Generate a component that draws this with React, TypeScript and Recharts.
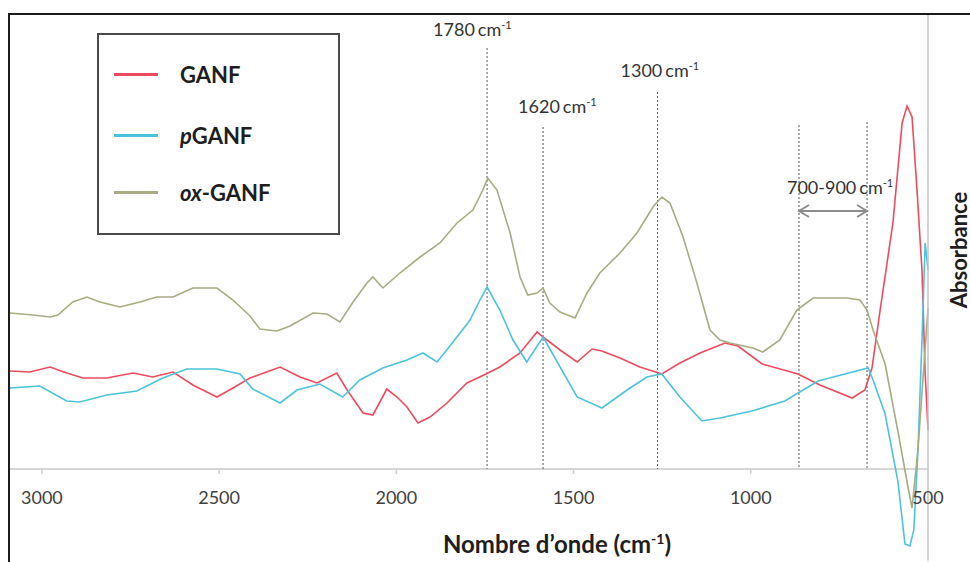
import { LineChart, Line, XAxis, YAxis, ReferenceLine, Legend } from "recharts";

const FONT = "Lato, 'Open Sans', sans-serif";

const CHART_WIDTH = 970;
const CHART_HEIGHT = 562;
const PLOT_TOP = 14;
const PLOT_LEFT = 10;
const X_AXIS_HEIGHT = 1;
const Y_AXIS_WIDTH = 42;
const Y_MIN = -92;
const Y_MAX = 455;
const PLOT_HEIGHT = CHART_HEIGHT - PLOT_TOP - X_AXIS_HEIGHT;
// pixel row of absorbance 0, where the wavenumber axis crosses
const AXIS_ZERO_Y = PLOT_TOP + (PLOT_HEIGHT * Y_MAX) / (Y_MAX - Y_MIN);

const WAVENUMBER_DOMAIN = [500, 3090];
const WAVENUMBER_TICKS = [3000, 2500, 2000, 1500, 1000, 500];

// GANF
const ganfWavenumbers = [
  3090, 3034, 2977, 2930, 2884, 2817, 2743, 2687, 2630, 2574, 2506, 2461, 2413, 2328, 2272,
  2224, 2168, 2139, 2094, 2066, 2027, 1998, 1970, 1939, 1905, 1857, 1801, 1747, 1708, 1651,
  1603, 1586, 1538, 1490, 1448, 1420, 1369, 1313, 1251, 1200, 1143, 1073, 1036, 968, 867,
  805, 714, 678, 658, 635, 599, 573, 559, 545, 531, 517, 508, 500,
];
const ganfAbsorbance = [
  98, 97, 102, 96, 91, 91, 96, 92, 97, 84, 72, 81, 91, 102, 92,
  86, 96, 79, 56, 54, 80, 72, 62, 46, 52, 66, 86, 95, 102, 116,
  137, 132, 119, 107, 120, 118, 111, 102, 95, 106, 116, 126, 123, 105, 95,
  84, 71, 79, 101, 159, 246, 346, 363, 352, 279, 199, 96, 39,
];

// pGANF
const pganfWavenumbers = [
  3090, 3006, 2930, 2893, 2817, 2732, 2659, 2591, 2506, 2441, 2405, 2328, 2280, 2216, 2151,
  2103, 2038, 1970, 1925, 1885, 1840, 1792, 1764, 1744, 1708, 1671, 1632, 1586, 1538, 1490,
  1420, 1349, 1293, 1251, 1200, 1138, 1087, 997, 904, 810, 669, 655, 621, 585, 565,
  551, 540, 528, 517, 508, 500,
];
const pganfAbsorbance = [
  81, 83, 68, 67, 74, 78, 91, 100, 100, 95, 80, 66, 79, 85, 72,
  89, 101, 109, 116, 107, 127, 149, 169, 182, 159, 129, 107, 132, 102, 72,
  61, 79, 92, 95, 72, 48, 51, 58, 68, 88, 101, 89, 55, -12, -75,
  -77, -61, 21, 129, 226, 199,
];

// ox-GANF
const oxganfWavenumbers = [
  3090, 3025, 2977, 2955, 2913, 2873, 2836, 2780, 2723, 2676, 2630, 2574, 2506, 2461, 2413,
  2385, 2337, 2300, 2235, 2196, 2159, 2122, 2083, 2066, 2038, 1990, 1933, 1877, 1829, 1784,
  1756, 1742, 1716, 1679, 1651, 1629, 1603, 1586, 1567, 1538, 1496, 1462, 1426, 1369, 1321,
  1276, 1251, 1228, 1191, 1152, 1115, 1087, 1059, 994, 966, 918, 870, 824, 777, 729,
  692, 672, 655, 621, 585, 556, 545, 528, 508, 500,
];
const oxganfAbsorbance = [
  156, 154, 152, 154, 167, 172, 167, 162, 167, 172, 172, 181, 181, 169, 153,
  140, 138, 143, 156, 155, 147, 167, 186, 192, 181, 196, 212, 226, 246, 259,
  279, 291, 279, 236, 192, 174, 176, 181, 166, 157, 151, 176, 196, 216, 236,
  262, 272, 266, 232, 186, 139, 129, 126, 121, 117, 129, 159, 171, 171, 171,
  169, 159, 139, 105, 38, -19, -39, 21, 121, 161,
];

// annotated peaks
const peakLabels = ["1780", "1620", "1300"];
const peakWavenumbers = [1744, 1586, 1263];
const peakLineTops = [421, 342, 377];
const peakLabelOffsets = [
  { dx: -54, dy: -12 },
  { dx: -25, dy: -14 },
  { dx: -37, dy: -15 },
];

// 700-900 band
const bandLabel = "700-900";
const bandEdges = [864, 672];
const bandLineTops = [344, 347];
const bandArrowLevel = 258;

const SERIES = [
  { key: "ganf", italic: "", rest: "GANF", color: "#ee4a5e", x: ganfWavenumbers, y: ganfAbsorbance },
  { key: "pganf", italic: "p", rest: "GANF", color: "#4cc3dc", x: pganfWavenumbers, y: pganfAbsorbance },
  { key: "oxganf", italic: "ox", rest: "-GANF", color: "#a9ab82", x: oxganfWavenumbers, y: oxganfAbsorbance },
];

const LEGEND_ROW_CENTERS = [39, 100, 157];

function toPoints(xs: number[], ys: number[]) {
  return xs.map((w, i) => ({ w, a: ys[i] }));
}

function WavenumberTick({ x, payload }: any) {
  return (
    <g>
      <line x1={x} x2={x} y1={AXIS_ZERO_Y} y2={AXIS_ZERO_Y + 5} stroke="#cfcfcf" strokeWidth={1.5} />
      <text
        x={x}
        y={AXIS_ZERO_Y + 35}
        textAnchor="middle"
        fill="#404040"
        fontSize={18}
        fontFamily={FONT}
      >
        {payload.value}
      </text>
    </g>
  );
}

function CmLabel({ viewBox, value, dx, dy }: any) {
  if (!viewBox) return null;
  return (
    <text x={viewBox.x + dx} y={viewBox.y + dy} fontFamily={FONT} fontSize={18} fill="#333">
      {value}
      <tspan dx={3}>cm</tspan>
      <tspan dy={-7} fontSize={11}>-1</tspan>
    </text>
  );
}

function DoubleArrow({ x1, y1, x2 }: any) {
  const left = Math.min(x1, x2);
  const right = Math.max(x1, x2);
  const y = y1;
  const w = 10;
  const h = 6;
  return (
    <g stroke="#8c8c8c" strokeWidth={2} fill="none">
      <line x1={left} y1={y} x2={right} y2={y} />
      <polyline points={`${left + w},${y - h} ${left},${y} ${left + w},${y + h}`} />
      <polyline points={`${right - w},${y - h} ${right},${y} ${right - w},${y + h}`} />
    </g>
  );
}

function XTitle() {
  return (
    <text x={557} y={553} textAnchor="middle" fontFamily={FONT} fontSize={24} fontWeight={700} fill="#1e1e1e">
      Nombre d’onde (cm
      <tspan dy={-9} fontSize={14}>-1</tspan>
      <tspan dy={9}>)</tspan>
    </text>
  );
}

function YTitle() {
  const cx = 958;
  const cy = 250;
  return (
    <text
      x={cx}
      y={cy}
      transform={`rotate(-90, ${cx}, ${cy})`}
      textAnchor="middle"
      dominantBaseline="central"
      fontFamily={FONT}
      fontSize={22}
      fontWeight={700}
      fill="#1e1e1e"
    >
      Absorbance
    </text>
  );
}

function LegendBox() {
  return (
    <div
      style={{
        width: 243,
        height: 202,
        border: "2px solid #4a4a4a",
        boxSizing: "border-box",
        background: "#fff",
        position: "relative",
        fontFamily: FONT,
      }}
    >
      {SERIES.map((s, i) => (
        <div
          key={s.key}
          style={{
            position: "absolute",
            left: 15,
            top: LEGEND_ROW_CENTERS[i] - 14,
            height: 28,
            display: "flex",
            alignItems: "center",
          }}
        >
          <span style={{ display: "inline-block", width: 44, height: 3, background: s.color }} />
          <span style={{ marginLeft: 22, fontWeight: 700, fontSize: 22, color: "#1e1e1e" }}>
            {s.italic && <i>{s.italic}</i>}
            {s.rest}
          </span>
        </div>
      ))}
    </div>
  );
}

export default function App() {
  return (
    <div style={{ position: "relative", width: CHART_WIDTH, height: CHART_HEIGHT, background: "#fff" }}>
      <style>{"body{margin:0;}"}</style>
      <LineChart
        width={CHART_WIDTH}
        height={CHART_HEIGHT}
        margin={{ top: PLOT_TOP, right: 0, bottom: 0, left: PLOT_LEFT }}
      >
        <XAxis
          type="number"
          dataKey="w"
          domain={WAVENUMBER_DOMAIN}
          reversed
          ticks={WAVENUMBER_TICKS}
          interval={0}
          height={X_AXIS_HEIGHT}
          axisLine={false}
          tickLine={false}
          tick={<WavenumberTick />}
          label={{ content: () => <XTitle /> }}
        />
        <YAxis
          type="number"
          dataKey="a"
          orientation="right"
          domain={[Y_MIN, Y_MAX]}
          width={Y_AXIS_WIDTH}
          tick={false}
          tickLine={false}
          axisLine={{ stroke: "#c4c4c4", strokeWidth: 1.5 }}
          label={{ content: () => <YTitle /> }}
        />
        <ReferenceLine y={0} stroke="#d6d6d6" strokeWidth={2} />
        {peakWavenumbers.map((w, i) => (
          <ReferenceLine
            key={`peak-${w}`}
            segment={[
              { x: w, y: peakLineTops[i] },
              { x: w, y: 0 },
            ]}
            stroke="#555"
            strokeWidth={1}
            strokeDasharray="2 2"
            label={<CmLabel value={peakLabels[i]} dx={peakLabelOffsets[i].dx} dy={peakLabelOffsets[i].dy} />}
          />
        ))}
        {bandEdges.map((w, i) => (
          <ReferenceLine
            key={`band-${w}`}
            segment={[
              { x: w, y: bandLineTops[i] },
              { x: w, y: 0 },
            ]}
            stroke="#555"
            strokeWidth={1}
            strokeDasharray="2 2"
          />
        ))}
        <ReferenceLine
          segment={[
            { x: bandEdges[0], y: bandArrowLevel },
            { x: bandEdges[1], y: bandArrowLevel },
          ]}
          shape={(p: any) => <DoubleArrow {...p} />}
          label={<CmLabel value={bandLabel} dx={-12} dy={-17} />}
        />
        {SERIES.map((s) => (
          <Line
            key={s.key}
            data={toPoints(s.x, s.y)}
            dataKey="a"
            name={s.italic + s.rest}
            type="linear"
            stroke={s.color}
            strokeWidth={1.6}
            dot={false}
            activeDot={false}
            isAnimationActive={false}
          />
        ))}
        <Legend
          layout="vertical"
          align="center"
          verticalAlign="middle"
          wrapperStyle={{ left: 97, top: 33, width: 243, height: 202 }}
          content={() => <LegendBox />}
        />
      </LineChart>
      <div
        style={{
          position: "absolute",
          left: 8,
          top: 13,
          right: 0,
          bottom: 0,
          borderTop: "2px solid #1c1c1c",
          borderLeft: "2px solid #1c1c1c",
          pointerEvents: "none",
        }}
      />
    </div>
  );
}
